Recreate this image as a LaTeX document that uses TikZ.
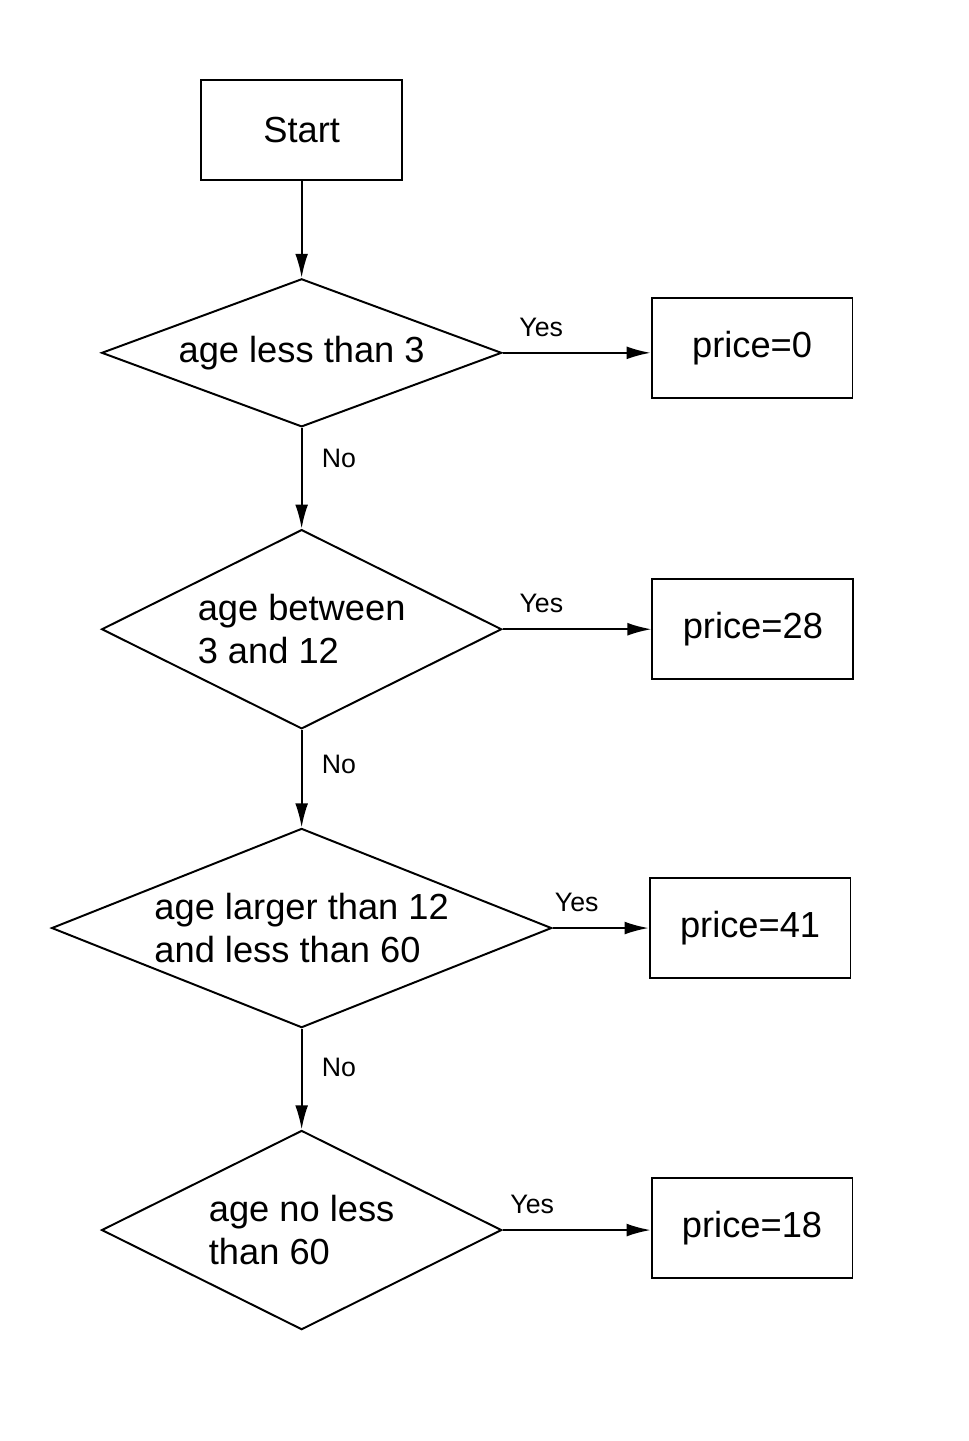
\documentclass[tikz,border=0pt]{standalone}
\usepackage{fontspec}
\setmainfont{Liberation Sans}
\usetikzlibrary{positioning, arrows.meta, shapes.geometric}

\begin{document}
\begin{tikzpicture}[
			node distance=1.27cm and 1.9cm,
			font=\fontsize{12.9}{15.5}\selectfont,
			line width=0.7pt,
			block/.style={rectangle, draw, minimum width=2.51cm, minimum height=1.25cm},
			decision/.style={diamond, draw, inner sep=0pt, align=left, minimum width=5cm, minimum height=2.49cm},
			arrow/.style={-{Latex[length=3mm, width=1.6mm]}},
			tag/.style={font=\fontsize{9.5}{11}\selectfont}
			]
			\useasboundingbox (0,0) rectangle (12.1,-18.01);
			
			% Start
			\node[block] (start) at (3.77,-1.625) {Start};
			
			% Decisions
			\node[decision, minimum height=1.85cm, aspect=2.7, below=1.21cm of start] (dec_three) {age less than 3};
			\node[decision, aspect=2, below=1.26cm of dec_three] (dec_twelve) {age between\\3 and 12};
			\node[decision, minimum width=6.25cm, aspect=2.5, below=1.22cm of dec_twelve] (dec_sixty) {age larger than 12\\and less than 60};
			\node[decision, aspect=2, below=1.26cm of dec_sixty] (dec_old) {age no less\\than 60};
			
			% Prices
			\node[block, right=1.85cm of dec_three, yshift=0.06cm] (price_a) {price=0};
			\node[block, right=1.86cm of dec_twelve] (price_b) {price=28};
			\node[block, right=1.2cm of dec_sixty] (price_c) {price=41};
			\node[block, right=1.85cm of dec_old, yshift=0.03cm] (price_d) {price=18};
			
			% No branch
			\draw[arrow] (start) -- (dec_three);
			\draw[arrow] (dec_three) -- node[tag, pos=.3, right=3.5pt] {No} (dec_twelve);
			\draw[arrow] (dec_twelve) -- node[tag, pos=.35, right=3.5pt] {No} (dec_sixty);
			\draw[arrow] (dec_sixty) -- node[tag, pos=.38, right=3.5pt] {No} (dec_old);
			
			% Yes branch
			\draw[arrow] (dec_three) -- node[tag, pos=.26, above=2pt] {Yes} (dec_three -| price_a.west);
			\draw[arrow] (dec_twelve) -- node[tag, pos=.26, above=2pt] {Yes} (price_b);
			\draw[arrow] (dec_sixty) -- node[tag, pos=.25, above=2pt] {Yes} (price_c);
			\draw[arrow] (dec_old) -- node[tag, pos=.2, above=2pt] {Yes} (dec_old -| price_d.west);
			
		\end{tikzpicture}
\end{document}
